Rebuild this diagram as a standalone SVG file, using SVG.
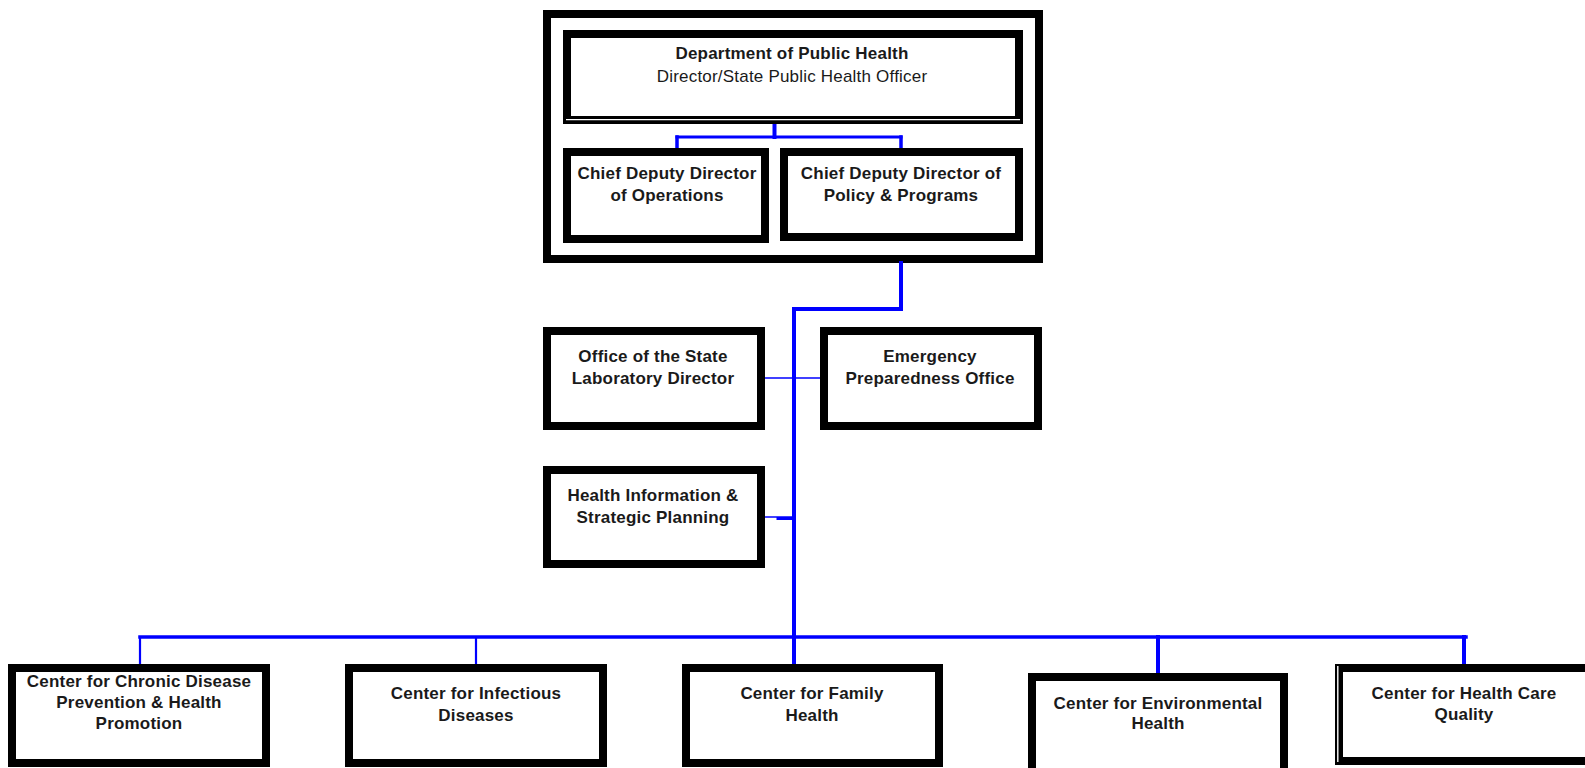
<svg xmlns="http://www.w3.org/2000/svg" width="1585" height="768" viewBox="0 0 1585 768">
<style>
.box{fill:#fff;stroke:#000;stroke-width:8}
.t{font-family:"Liberation Sans",Arial,sans-serif;font-size:17px;font-weight:bold;fill:#1a1a1a;text-anchor:middle;letter-spacing:0.2px}
.r{font-weight:normal}
.c{fill:none;stroke:#0000ff;stroke-linecap:square}
</style>
<rect width="1585" height="768" fill="#fff"/>
<g id="outer-frame"><rect x="547" y="14" width="492" height="245" fill="#fff" stroke="#000" stroke-width="8"/></g>
<g id="connectors">
<path class="c" d="M774.5 124V137" stroke-width="4"/>
<path class="c" d="M677 137H901" stroke-width="3"/>
<path class="c" d="M677 137V149M901 137V149" stroke-width="3.5"/>
<path class="c" d="M901 263V309H794V664" stroke-width="4"/>
<path class="c" d="M762 378H824" stroke-width="1.6" stroke-linecap="butt"/>
<path class="c" d="M762 517H793" stroke-width="1.6" stroke-linecap="butt"/>
<path class="c" d="M778 518.5H793" stroke-width="3" stroke-linecap="butt"/>
<path class="c" d="M140 637H1466" stroke-width="3.5" stroke-linecap="butt"/>
<path class="c" d="M140 637V665M476 637V665" stroke-width="2.2" stroke-linecap="butt"/>
<path class="c" d="M1158 637V674M1464 637V665" stroke-width="4" stroke-linecap="butt"/>
</g>
<g id="director">
<rect class="box" x="567" y="34" width="452" height="86"/>
<line x1="566" y1="119.6" x2="1020" y2="119.6" stroke="#fff" stroke-width="1.2"/>
<text class="t" x="792" y="59">Department of Public Health</text>
<text class="t r" x="792" y="82">Director/State Public Health Officer</text>
</g>
<g id="cdd-operations">
<rect class="box" x="567" y="152" width="198" height="87"/>
<text class="t" x="667" y="179">Chief Deputy Director</text>
<text class="t" x="667" y="201">of Operations</text>
</g>
<g id="cdd-policy">
<rect class="box" x="784" y="152" width="235" height="85"/>
<text class="t" x="901" y="179">Chief Deputy Director of</text>
<text class="t" x="901" y="201">Policy &amp; Programs</text>
</g>
<g id="lab-director">
<rect class="box" x="547" y="331" width="214" height="95"/>
<text class="t" x="653" y="362">Office of the State</text>
<text class="t" x="653" y="384">Laboratory Director</text>
</g>
<g id="emergency">
<rect class="box" x="824" y="331" width="214" height="95"/>
<text class="t" x="930" y="362">Emergency</text>
<text class="t" x="930" y="384">Preparedness Office</text>
</g>
<g id="health-info">
<rect class="box" x="547" y="470" width="214" height="94"/>
<text class="t" x="653" y="501">Health Information &amp;</text>
<text class="t" x="653" y="523">Strategic Planning</text>
</g>
<g id="chronic">
<rect class="box" x="12" y="668" width="254" height="95"/>
<text class="t" x="139" y="687">Center for Chronic Disease</text>
<text class="t" x="139" y="708">Prevention &amp; Health</text>
<text class="t" x="139" y="729">Promotion</text>
</g>
<g id="infectious">
<rect class="box" x="349" y="668" width="254" height="95"/>
<text class="t" x="476" y="699">Center for Infectious</text>
<text class="t" x="476" y="721">Diseases</text>
</g>
<g id="family">
<rect class="box" x="686" y="668" width="253" height="95"/>
<text class="t" x="812" y="699">Center for Family</text>
<text class="t" x="812" y="721">Health</text>
</g>
<g id="environmental">
<rect class="box" x="1032" y="677" width="252" height="100"/>
<text class="t" x="1158" y="709">Center for Environmental</text>
<text class="t" x="1158" y="729">Health</text>
</g>
<g id="health-care">
<rect class="box" x="1339" y="668" width="260" height="93" stroke-width="7"/>
<line x1="1337.8" y1="666" x2="1337.8" y2="762" stroke="#fff" stroke-width="1.4"/>
<text class="t" x="1464" y="699">Center for Health Care</text>
<text class="t" x="1464" y="720">Quality</text>
</g>
</svg>
